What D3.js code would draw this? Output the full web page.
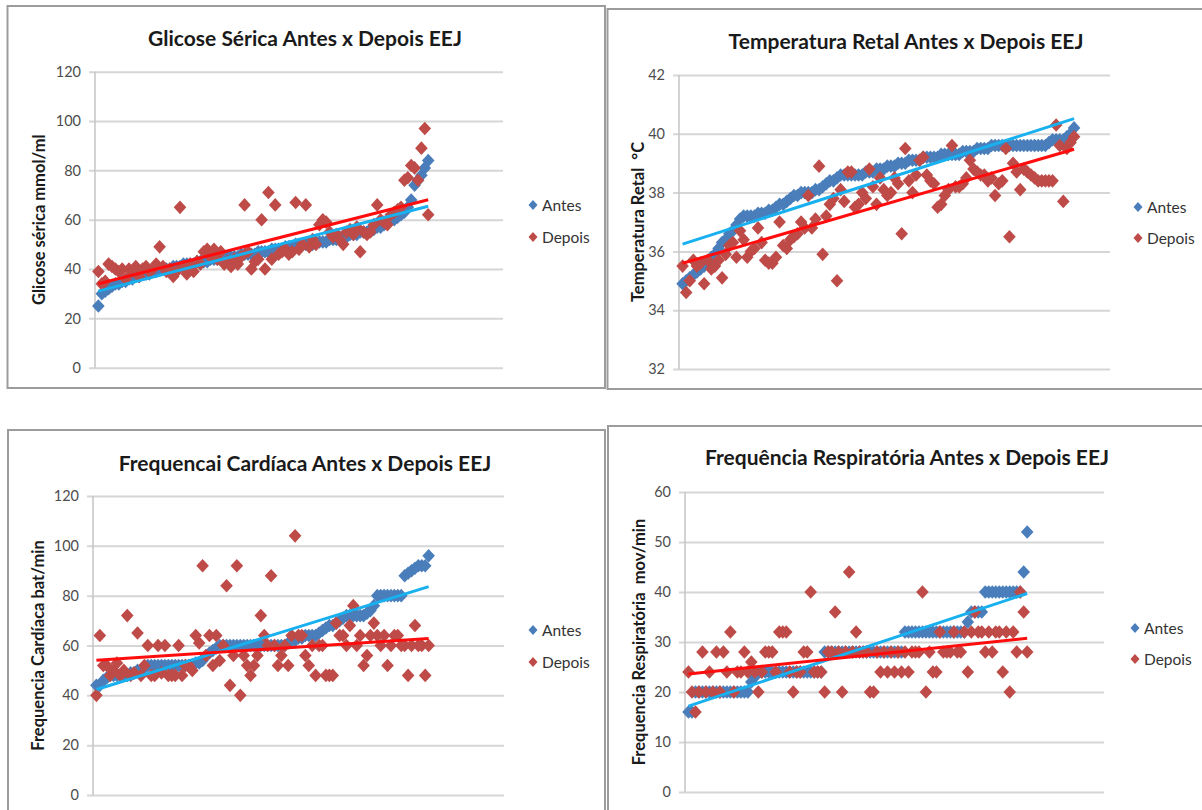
<!DOCTYPE html>
<html>
<head>
<meta charset="utf-8">
<script src="https://cdn.jsdelivr.net/npm/d3@7"></script>
<style>
  body { margin: 0; background: #fff; }
  svg { display: block; }
</style>
</head>
<body>
<div id="content"></div>
<script>
//-- data (x = animal index, series sorted by "Antes")
const seriesNames = ["Antes", "Depois"];

const glicoseTicks = [0, 20, 40, 60, 80, 100, 120];
const glicoseAntes = [25, 30, 31, 32, 33,
  34, 34, 35, 35, 36, 36, 37, 37, 38, 38,
  38, 39, 39, 40, 40, 40, 40, 41, 41, 41,
  42, 42, 42, 42, 43, 43, 43, 43, 44, 44,
  44, 44, 45, 45, 45, 45, 45, 46, 46, 46,
  46, 46, 47, 47, 47, 47, 48, 48, 48, 48,
  49, 49, 49, 50, 50, 50, 50, 50, 50, 51,
  51, 51, 51, 52, 52, 52, 53, 53, 53, 54,
  54, 54, 55, 55, 55, 56, 56, 57, 57, 58,
  59, 60, 60, 61, 62, 63, 65,
  68, 74, 76, 78, 81, 84];
const glicoseDepois = [39, 34, 35, 42, 41, 40, 39, 40, 36, 40,
  39, 41, 37, 40, 41, 39, 40, 42, 49, 41,
  39, 40, 37, 39, 65, 41, 38, 42, 39, 43,
  42, 47, 48, 45, 48, 44, 47, 42, 43, 41,
  44, 42, 45, 66, 47, 40, 43, 44, 60, 40,
  71, 44, 66, 46, 47, 48, 46, 47, 67, 48,
  50, 66, 49, 52, 50, 58, 60, 59, 55, 53,
  54, 52, 50, 55, 56, 54, 57, 47, 55, 54,
  55, 58, 66, 60, 59, 58, 62, 63, 64, 65,
  76, 77, 82, 81, 76, 89, 97, 62];

const temperaturaTicks = [32, 34, 36, 38, 40, 42];
const temperaturaAntes = [34.9, 35.0, 35.1, 35.2, 35.3, 35.4, 35.5, 35.6, 35.8, 35.9,
  36.1, 36.3, 36.4, 36.6, 36.7, 36.9, 37.1, 37.2, 37.2, 37.2,
  37.2, 37.3, 37.3, 37.3, 37.4, 37.4, 37.5, 37.6, 37.6, 37.7,
  37.8, 37.9, 37.9, 38.0, 38.0, 38.0, 38.0, 38.1, 38.1, 38.2,
  38.3, 38.4, 38.4, 38.5, 38.6, 38.6, 38.6, 38.6, 38.6, 38.6,
  38.6, 38.7, 38.7, 38.7, 38.8, 38.8, 38.8, 38.9, 38.9, 38.9,
  39.0, 39.0, 39.0, 39.1, 39.1, 39.1, 39.1, 39.2, 39.2, 39.2,
  39.2, 39.2, 39.3, 39.3, 39.3, 39.3, 39.3, 39.3, 39.4, 39.4,
  39.4, 39.4, 39.5, 39.5, 39.5, 39.5, 39.6, 39.6, 39.6, 39.6,
  39.6, 39.6, 39.6, 39.6, 39.6, 39.6, 39.6, 39.6, 39.6, 39.6,
  39.6, 39.6, 39.7, 39.8, 39.8, 39.8, 39.8, 39.9, 40.0, 40.2];
const temperaturaDepois = [35.5, 34.6, 35.0, 35.7, 35.5, 35.6, 34.9, 35.7, 35.4, 35.5,
  35.7, 35.1, 35.9, 36.2, 36.3, 35.8, 36.7, 36.4, 35.8, 36.0,
  36.1, 36.8, 36.3, 35.7, 35.6, 35.6, 35.8, 37.0, 36.2, 36.1,
  36.4, 36.5, 36.6, 37.0, 36.8, 37.9, 36.8, 37.1, 38.9, 35.9,
  37.2, 37.6, 37.8, 35.0, 38.1, 37.7, 38.7, 38.7, 37.5, 37.6,
  38.0, 37.8, 38.8, 38.2, 37.6, 38.5, 38.1, 37.9, 38.0, 38.5,
  38.3, 36.6, 39.5, 38.4, 38.0, 38.6, 39.1, 39.2, 38.6, 38.4,
  38.3, 37.5, 37.6, 37.9, 38.1, 39.6, 38.2, 38.2, 38.3, 38.5,
  39.1, 38.8, 38.7, 38.6, 38.6, 38.4, 38.5, 37.9, 38.3, 38.4,
  39.5, 36.5, 39.0, 38.7, 38.1, 38.8, 38.7, 38.6, 38.5, 38.4,
  38.4, 38.4, 38.4, 38.4, 40.3, 39.6, 37.7, 39.5, 39.7, 39.9];

const cardiacaTicks = [0, 20, 40, 60, 80, 100, 120];
const cardiacaAntes = [44, 44, 46, 47, 48, 48, 48, 48, 48, 48,
  49, 49, 50, 50, 51, 52, 52, 52, 52, 52,
  52, 52, 52, 52, 52, 52, 52, 52, 52, 53,
  53, 54, 56, 57, 58, 59, 60, 60, 60, 60,
  60, 60, 60, 60, 60, 60, 60, 60, 60, 60,
  60, 60, 60, 60, 60, 60, 61, 62, 62, 63,
  63, 64, 64, 64, 64, 65, 66, 67, 68, 68,
  69, 70, 71, 72, 72, 72, 72, 72, 72, 73,
  74, 76, 80, 80, 80, 80, 80, 80, 80, 80,
  88, 89, 90, 91, 92, 92, 92, 96];
const cardiacaDepois = [40, 64, 52, 52, 48, 50, 53, 48, 50, 72,
  48, 49, 65, 48, 52, 60, 48, 48, 60, 49,
  60, 48, 48, 48, 60, 48, 52, 52, 50, 64,
  61, 92, 56, 64, 52, 64, 54, 60, 84, 44,
  56, 92, 40, 56, 52, 48, 52, 56, 72, 64,
  60, 88, 60, 52, 56, 60, 52, 64, 104, 64,
  64, 56, 52, 60, 48, 60, 60, 48, 48, 48,
  69, 64, 64, 60, 68, 76, 60, 64, 52, 56,
  64, 69, 64, 60, 64, 52, 60, 64, 64, 60,
  60, 48, 60, 68, 60, 60, 48, 60];

const respiratoriaTicks = [0, 10, 20, 30, 40, 50, 60];
const respiratoriaAntes = [16, 16, 20, 20, 20, 20, 20, 20, 20, 20,
  20, 20, 20, 20, 20, 20, 20, 20, 22, 23,
  24, 24, 24, 24, 24, 24, 24, 24, 24, 24,
  24, 24, 24, 24, 24, 24, 24, 24, 24, 28,
  28, 28, 28, 28, 28, 28, 28, 28, 28, 28,
  28, 28, 28, 28, 28, 28, 28, 28, 28, 28,
  28, 28, 32, 32, 32, 32, 32, 32, 32, 32,
  32, 32, 32, 32, 32, 32, 32, 32, 32, 32,
  34, 36, 36, 36, 36, 40, 40, 40, 40, 40,
  40, 40, 40, 40, 40, 40, 44, 52];
const respiratoriaDepois = [24, 20, 16, 20, 28, 20, 24, 20, 28, 20,
  28, 24, 32, 20, 24, 24, 28, 24, 26, 24,
  20, 24, 28, 28, 28, 24, 32, 32, 32, 24,
  20, 24, 24, 28, 28, 40, 24, 24, 24, 20,
  28, 28, 36, 28, 20, 28, 44, 28, 32, 28,
  28, 28, 20, 20, 28, 24, 28, 24, 28, 24,
  28, 24, 28, 24, 28, 28, 28, 40, 20, 28,
  24, 24, 32, 28, 28, 28, 32, 28, 28, 32,
  24, 32, 36, 32, 32, 28, 32, 28, 32, 32,
  24, 32, 20, 32, 28, 40, 36, 28];

//-- styles
const FONT = "Lato, 'Open Sans', sans-serif";
const BLUE = "#4a7ebb";
const RED = "#be4b48";
const BLUE_TREND = "#18b0ef";
const RED_TREND = "#ff0d0d";
const GRID = "#d6d6d6";

//-- layout of the four chart boxes
const panels = [
  {
    title: "Glicose Sérica Antes x Depois EEJ",
    yLabel: "Glicose sérica mmol/ml",
    antes: glicoseAntes, depois: glicoseDepois, ticks: glicoseTicks,
    frame: [7.5, 6, 597.5, 382],
    plot: { left: 95, right: 503, top: 71.7, bottom: 367.7 },
    titleX: 305, titleY: 37, labelX: 39, legendX: 533, legendY: [205, 237],
  },
  {
    title: "Temperatura Retal Antes x Depois EEJ",
    yLabel: "Temperatura Retal \u00a0°C",
    antes: temperaturaAntes, depois: temperaturaDepois, ticks: temperaturaTicks,
    frame: [607.5, 9, 600, 380],
    plot: { left: 679, right: 1110, top: 75, bottom: 369 },
    titleX: 906, titleY: 40, labelX: 638, legendX: 1138, legendY: [207, 238],
  },
  {
    title: "Frequencai Cardíaca Antes x Depois EEJ",
    yLabel: "Frequencia Cardíaca bat/min",
    antes: cardiacaAntes, depois: cardiacaDepois, ticks: cardiacaTicks,
    frame: [8, 430, 597, 400],
    plot: { left: 93, right: 504, top: 496, bottom: 795 },
    titleX: 305, titleY: 462, labelX: 38, legendX: 533, legendY: [630, 662],
  },
  {
    title: "Frequência Respiratória Antes x Depois EEJ",
    yLabel: "Frequencia Respiratória \u00a0mov/min",
    antes: respiratoriaAntes, depois: respiratoriaDepois, ticks: respiratoriaTicks,
    frame: [608, 426, 600, 400],
    plot: { left: 685, right: 1104, top: 492, bottom: 792 },
    titleX: 907, titleY: 456, labelX: 639, legendX: 1135, legendY: [628, 659],
  },
];

const svg = d3
  .select("#content")
  .append("svg")
  .attr("width", 1202)
  .attr("height", 810)
  .style("font-family", FONT);

//-- excel-like diamond marker
const diamond = (w, h) => `M0,${-h}L${w},0L0,${h}L${-w},0Z`;

//-- least squares line through (1..n, values)
function linearFit(values) {
  const xs = values.map((d, i) => i + 1);
  const mx = d3.mean(xs), my = d3.mean(values);
  const sxy = d3.sum(xs, (x, i) => (x - mx) * (values[i] - my));
  const sxx = d3.sum(xs, (x) => (x - mx) * (x - mx));
  const slope = sxy / sxx;
  return (x) => my + slope * (x - mx);
}

panels.forEach(drawPanel);

function drawPanel(p) {
  const g = svg.append("g");
  const [fx, fy, fw, fh] = p.frame;
  g.append("rect")
    .attr("x", fx).attr("y", fy).attr("width", fw).attr("height", fh)
    .attr("fill", "#fff")
    .attr("stroke", "#9c9c9c")
    .attr("stroke-width", 2);

  const x = d3.scaleLinear().domain([0, 120]).range([p.plot.left, p.plot.right]);
  const y = d3.scaleLinear().domain(d3.extent(p.ticks)).range([p.plot.bottom, p.plot.top]);

  //-- y axis + gridlines
  const yAxis = g.append("g")
    .attr("transform", `translate(${p.plot.left},0)`)
    .call(d3.axisLeft(y).tickValues(p.ticks).tickSize(0).tickPadding(14));
  yAxis.select(".domain").remove();
  yAxis.attr("font-family", FONT).attr("font-size", 14.5);
  yAxis.selectAll(".tick line")
    .attr("x1", -6)
    .attr("x2", p.plot.right - p.plot.left)
    .attr("stroke", GRID)
    .attr("stroke-width", 2);
  yAxis.selectAll(".tick text").attr("fill", "#4d4d4d");

  g.append("line")
    .attr("x1", p.plot.left).attr("x2", p.plot.left)
    .attr("y1", p.plot.top).attr("y2", p.plot.bottom)
    .attr("stroke", "#c4c4c4")
    .attr("stroke-width", 1.5);

  //-- markers
  g.append("g").selectAll("path")
    .data(p.antes)
    .join("path")
    .attr("d", diamond(6.3, 6.8))
    .attr("transform", (d, i) => `translate(${x(i + 1)},${y(d)})`)
    .attr("fill", BLUE);
  g.append("g").selectAll("path")
    .data(p.depois)
    .join("path")
    .attr("d", diamond(6.3, 6.8))
    .attr("transform", (d, i) => `translate(${x(i + 1)},${y(d)})`)
    .attr("fill", RED);

  //-- linear trend lines
  [[p.antes, BLUE_TREND], [p.depois, RED_TREND]].forEach(([vals, color]) => {
    const fit = linearFit(vals);
    const n = vals.length;
    g.append("line")
      .attr("x1", x(1)).attr("y1", y(fit(1)))
      .attr("x2", x(n)).attr("y2", y(fit(n)))
      .attr("stroke", color)
      .attr("stroke-width", 3);
  });

  //-- title
  g.append("text")
    .attr("x", p.titleX).attr("y", p.titleY)
    .attr("text-anchor", "middle")
    .attr("dominant-baseline", "central")
    .attr("font-size", 21)
    .attr("font-weight", "bold")
    .attr("fill", "#1a1a1a")
    .text(p.title);

  //-- y label
  g.append("text")
    .attr("transform", `translate(${p.labelX},${(p.plot.top + p.plot.bottom) / 2}) rotate(-90)`)
    .attr("text-anchor", "middle")
    .attr("dominant-baseline", "central")
    .attr("font-size", 16.5)
    .attr("font-weight", "bold")
    .attr("fill", "#1a1a1a")
    .text(p.yLabel);

  //-- legend
  const legend = g.append("g").selectAll("g")
    .data(seriesNames)
    .join("g")
    .attr("transform", (d, i) => `translate(${p.legendX},${p.legendY[i]})`);
  legend.append("path")
    .attr("d", diamond(4.5, 5))
    .attr("fill", (d, i) => (i === 0 ? BLUE : RED));
  legend.append("text")
    .attr("x", 9)
    .attr("dominant-baseline", "central")
    .attr("font-size", 15.5)
    .attr("fill", "#333")
    .text((d) => d);
}
</script>
</body>
</html>
